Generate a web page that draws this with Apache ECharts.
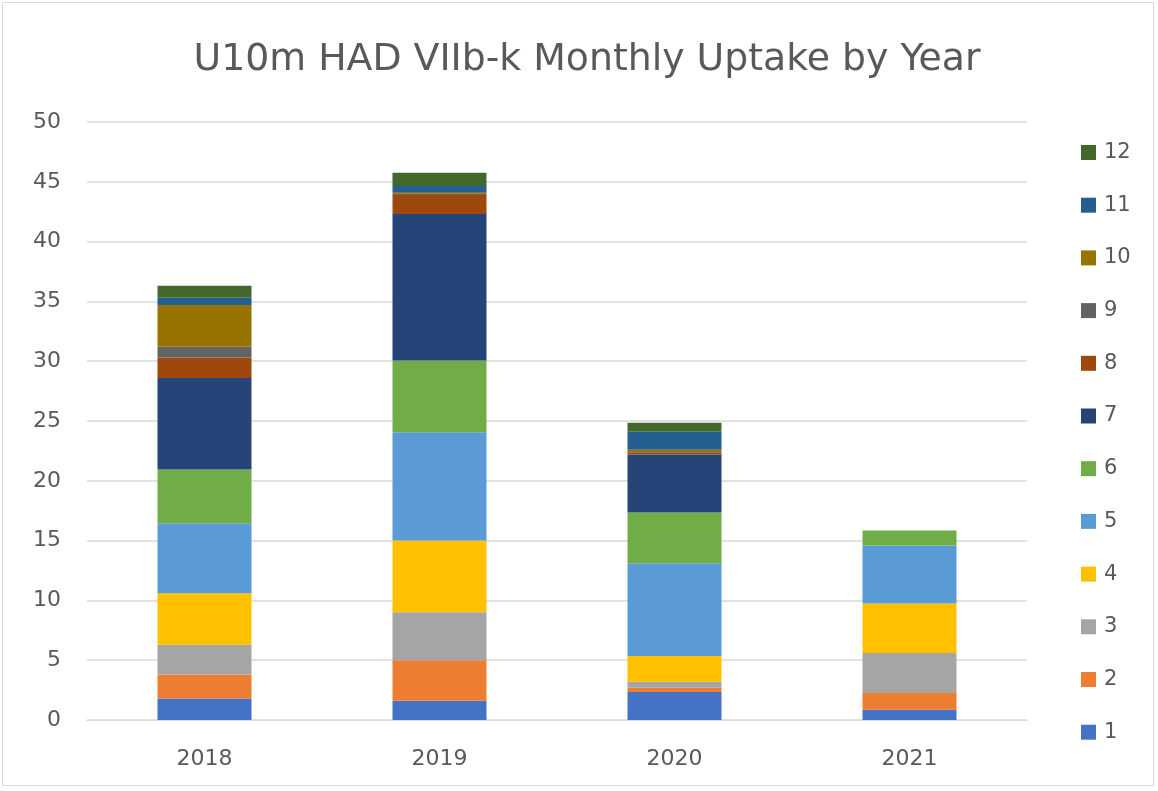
<!DOCTYPE html>
<html>
<head>
<meta charset="utf-8">
<title>U10m HAD VIIb-k Monthly Uptake by Year</title>
<script src="https://cdn.jsdelivr.net/npm/echarts@6/dist/echarts.min.js"></script>
<style>
  html, body { margin: 0; padding: 0; background: #fff; }
  #chart { position: absolute; left: 2px; top: 2px; width: 1152px; height: 784px; border: 1px solid #d9d9d9; box-sizing: border-box; }
</style>
</head>
<body>
<div id="chart"></div>
<script>
// years on the x axis
const years = ['2018', '2019', '2020', '2021']
// monthly uptake per year (one array per month)
const m1 = [1.8, 1.6, 2.35, 0.85]
const m2 = [2.0, 3.4, 0.35, 1.4]
const m3 = [2.5, 4.0, 0.5, 3.35]
const m4 = [4.3, 6.0, 2.15, 4.15]
const m5 = [5.85, 9.05, 7.75, 4.85]
const m6 = [4.5, 6.0, 4.25, 1.25]
const m7 = [7.65, 12.25, 4.85, 0]
const m8 = [1.7, 1.6, 0.15, 0]
const m9 = [0.9, 0.15, 0.05, 0]
const m10 = [3.5, 0.1, 0.2, 0]
const m11 = [0.6, 0.5, 1.5, 0]
const m12 = [1.0, 1.1, 0.75, 0]
const monthNames = ['1', '2', '3', '4', '5', '6', '7', '8', '9', '10', '11', '12']
const monthData = [m1, m2, m3, m4, m5, m6, m7, m8, m9, m10, m11, m12]
const colors = ['#4472C4', '#ED7D31', '#A5A5A5', '#FFC000', '#5B9BD5', '#70AD47',
  '#264478', '#9E480E', '#636363', '#997300', '#255E91', '#43682B']

const FONT = 'DejaVu Sans'
const myChart = echarts.init(document.getElementById('chart'))

const series = monthNames.map(function (name, i) {
  return {
    name: name,
    type: 'bar',
    stack: 'total',
    barWidth: '40%',
    itemStyle: { color: colors[i] },
    data: monthData[i]
  }
})

myChart.setOption({
  backgroundColor: '#FFFFFF',
  animation: false,
  title: {
    text: 'U10m HAD VIIb-k Monthly Uptake by Year',
    top: 33,
    left: 579,
    textAlign: 'center',
    textStyle: {
      fontFamily: FONT,
      fontWeight: 'normal',
      fontSize: 37.8,
      color: '#595959'
    }
  },
  legend: {
    orient: 'vertical',
    left: 1073,
    top: 134,
    itemWidth: 15,
    itemHeight: 15,
    itemGap: 31.7,
    icon: 'rect',
    data: monthNames.slice().reverse(),
    textStyle: { fontFamily: FONT, fontSize: 21, color: '#595959', padding: [0, 0, 0, 3] }
  },
  grid: {
    left: 84,
    right: 126,
    top: 119,
    bottom: 784 - 719,
    containLabel: false
  },
  xAxis: [{
    type: 'category',
    data: years,
    axisTick: { show: false },
    axisLine: { lineStyle: { color: '#d9d9d9', width: 1 } },
    axisLabel: { margin: 28, fontFamily: FONT, fontSize: 22, color: '#595959' }
  }],
  yAxis: [{
    type: 'value',
    min: 0,
    max: 50,
    interval: 5,
    axisLine: { show: false },
    axisTick: { show: false },
    axisLabel: { margin: 26, fontFamily: FONT, fontSize: 22, color: '#595959' },
    splitLine: { lineStyle: { color: '#d9d9d9', width: 1.5 } }
  }],
  series: series
})
</script>
</body>
</html>
